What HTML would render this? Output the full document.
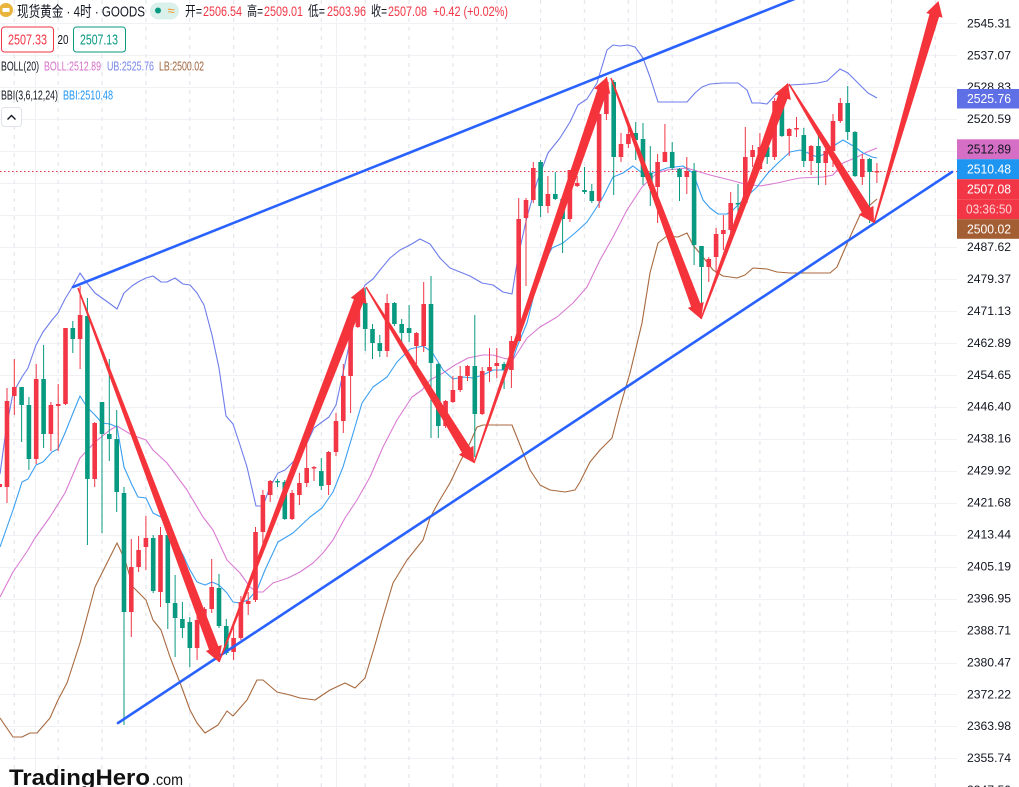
<!DOCTYPE html>
<html><head><meta charset="utf-8"><style>
html,body{margin:0;padding:0;background:#fff;width:1019px;height:787px;overflow:hidden}
svg{display:block}
text{font-family:"Liberation Sans","Noto Sans CJK SC",sans-serif}
</style></head><body>
<svg width="1019" height="787" viewBox="0 0 1019 787" xmlns="http://www.w3.org/2000/svg">
<rect width="1019" height="787" fill="#fff"/>
<!-- horizontal grid -->
<g stroke="#F0F1F4" stroke-width="1">
<path d="M0 23.5H957M0 55.5H957M0 87.5H957M0 119.5H957M0 151.5H957M0 183.5H957M0 215.5H957M0 247.5H957M0 279.5H957M0 311.5H957M0 343.5H957M0 375.5H957M0 407.5H957M0 439.5H957M0 471.5H957M0 503.5H957M0 535.5H957M0 567.5H957M0 599.5H957M0 631.5H957M0 663.5H957M0 694.5H957M0 726.5H957M0 758.5H957"/>
<path d="M35.5 0V787M336.5 0V787M636.5 0V787"/>
</g>
<g stroke="#E6E8EE" stroke-width="1.3" stroke-dasharray="4 5">
<path d="M14.3 0V787M58.2 0V787M102 0V787M145.9 0V787M189.7 0V787M233.6 0V787M277.5 0V787M321.3 0V787M365.2 0V787M409 0V787M452.9 0V787M496.8 0V787M540.6 0V787M584.5 0V787M628.3 0V787M672.2 0V787M716.1 0V787M759.9 0V787M803.8 0V787M847.6 0V787M891.5 0V787M935.4 0V787"/>
</g>
<!-- dotted last price line -->
<path d="M0 171.5H957" stroke="#F23645" stroke-width="1" stroke-dasharray="1.5 2.5"/>
<!-- indicators -->
<g fill="none" stroke-width="1.1" stroke-linejoin="round">
<polyline stroke="#6E7DEB" points="0,474 6,430 13,393 22,377 28,368 36,345 43,332 52,320 58,313 65,299 73,286 80,273 87,283 95,293 102,298 109,303 117,309 124,293 132,286 138,282 146,278 153,276 161,282 167,282 175,278 183,284 190,285 197,293 204,305 212,335 219,368 226,416 233,424 240,445 247,467 256,506 263,506 270,487 278,473 285,470 292,463 300,455 307,443 314,428 322,422 329,417 336,405 343,373 351,337 358,303 365,285 373,279 380,270 390,258 400,250 410,245 420,239 430,244 440,258 450,268 460,272 470,276 482,283 493,285 503,292 512,294 518,257 527,217 537,182 548,153 560,138 570,122 578,105 587,99 597,83 607,50 613,45 620,46 628,45 635,47 643,58 650,77 658,102 687,102 695,93 702,87 710,84 723,83 738,83 747,90 752,103 760,103 767,104 778,92 790,85 807,84 818,83 827,81 840,69 848,73 860,85 868,93 877,98"/>
<polyline stroke="#DA7BD3" points="0,597 13,572 28,550 35,538 50,517 65,493 80,458 95,442 110,430 117,426 132,435 146,440 153,450 167,463 187,490 203,517 213,530 227,560 240,573 250,587 257,592 263,592 273,583 288,578 300,572 313,563 323,553 333,540 345,518 357,500 370,477 383,447 397,420 412,397 422,390 430,380 443,373 455,365 468,358 483,355 493,355 503,358 513,360 527,338 540,327 557,317 573,303 587,287 600,260 613,237 627,210 642,187 657,173 667,170 687,168 700,172 710,175 730,180 745,184 760,186 777,183 790,180 800,178 823,177 833,175 843,163 857,157 867,152 877,148"/>
<polyline stroke="#A8693F" points="0,718 13,737 22,737 30,733 37,733 50,718 58,700 67,683 80,643 95,587 107,563 117,543 125,560 133,587 146,600 153,620 161,630 170,657 182,688 190,710 197,723 205,733 218,725 227,711 233,716 247,700 257,680 263,680 277,692 290,695 300,698 315,700 330,690 345,683 355,688 365,678 375,645 382,620 393,583 407,560 423,540 430,518 438,503 450,483 460,462 470,443 477,427 483,425 512,425 518,440 530,470 540,485 550,490 565,492 575,490 580,482 590,462 600,450 612,438 620,407 630,373 642,323 650,273 658,243 667,236 678,237 687,233 693,245 703,257 713,270 723,276 737,278 745,275 753,268 767,269 777,272 790,273 830,273 837,267 843,253 850,237 860,215 870,205 877,199"/>
<polyline stroke="#3A9FF2" points="0,547 13,510 22,482 28,479 36,465 43,462 52,452 58,449 65,433 73,413 80,396 87,407 95,415 102,423 110,424 117,427 124,467 132,485 138,497 146,498 153,513 161,517 167,527 175,540 183,555 190,570 197,582 205,585 212,582 219,585 227,593 233,602 240,603 248,600 257,590 265,570 278,542 293,533 310,517 322,508 333,492 343,467 352,437 362,403 373,387 387,377 397,362 410,349 423,346 432,352 443,370 453,379 463,377 473,378 483,375 493,370 502,370 510,368 517,347 527,323 540,270 552,248 563,243 575,233 587,222 595,210 603,197 613,177 623,173 633,166 642,173 653,173 667,168 683,166 693,173 703,200 710,208 718,214 727,214 733,210 743,200 757,187 768,173 778,163 790,152 800,150 808,153 817,157 827,153 835,145 843,140 855,147 863,153 872,157 877,158"/>
</g>
<!-- candles -->
<g fill="none">
<path stroke="#F23645" stroke-width="1" d="M7 388V503M14.3 359V415M36.2 364V464M50.9 402V451M58.2 384V451M65.5 328V405M80.1 286V369M94.7 422V487M131.3 539V637M138.6 536V572M145.9 516V570M160.5 527V607M197.1 613V660M204.4 607V623M211.7 559V613M233.6 622V660M240.9 596V640M248.2 592V615M255.5 527V602M262.9 490V547M270.2 480V502M292.1 490V520M299.4 473V505M306.7 443V487M314 466V481M328.6 451V495M336 413V456M343.3 364V433M350.6 321V413M357.9 303V328M387.1 294V357M416.4 332V364M423.7 282V352M445.6 400V428M452.9 376V403M460.2 366V392M467.5 365V381M482.2 367V415M489.5 348V382M496.8 348V378M511.4 336V388M518.7 198V341M526 198V286M533.3 162V203M547.9 176V213M569.9 170V222M577.2 176V187M599.1 113V208M606.4 77V120M621 133V162M628.4 121V148M657.6 154V223M664.9 124V162M686.8 157V194M708.8 257V282M716.1 228V273M723.4 215V250M730.7 192V235M745.3 127V204M752.6 145V167M759.9 133V170M774.6 98V160M789.2 128V156M796.5 117V137M811.1 145V175M825.7 149V185M833 114V167M840.3 98V123M862.3 154V185M876.9 163V183"/>
<path stroke="#F23645" stroke-width="4.6" d="M-0.3 484V487M7 401V487M14.3 387V396M36.2 379V459M50.9 405V434M58.2 404V406M65.5 328V404M80.1 315V339M94.7 423V479M131.3 567V612M138.6 550V567M145.9 538V547M160.5 535V592M197.1 620V648M204.4 609V620M211.7 587V609M233.6 638V652M240.9 602V638M248.2 601V604M255.5 532V600M262.9 495V532M270.2 481V495M292.1 493V519M299.4 483V495M306.7 468V483M314 467V468.5M328.6 452V485M336 421V452M343.3 376V421M350.6 327V376M357.9 305V327M387.1 303V351M416.4 333V346M423.7 304V346M445.6 401V426M452.9 390V402M460.2 376V390M467.5 366V376M482.2 371V414M489.5 367V371M496.8 363V366M511.4 341V370M518.7 219V341M526 200V218M533.3 168V200M547.9 194V206M569.9 170V219M577.2 183V186M599.1 114V201M606.4 82V114M621 144V157M628.4 134V144M657.6 162V187M664.9 152V162M686.8 171V177M708.8 259V267M716.1 234V257M723.4 230V234M730.7 203V230M745.3 157V203M752.6 150V157M759.9 147V169M774.6 101V157M789.2 129V136M796.5 128V129.5M811.1 146V161M825.7 151V163M833 121V151M840.3 103V121M862.3 159V177M876.9 171V172.5"/>
<path stroke="#089981" stroke-width="1" d="M21.6 387V442M28.9 397V470M43.6 345V448M72.8 321V353M87.4 298V545M102 402V533M109.3 359V461M116.7 410V512M124 487V725M153.2 535V593M167.8 527V629M175.1 575V657M182.4 602V638M189.8 617V667M219 574V628M226.3 619V655M277.5 479V487M284.8 480V520M321.3 458V490M365.2 288V351M372.5 324V359M379.8 335V357M394.4 302V326M401.7 319V343M409.1 305V342M431 276V438M438.3 363V438M474.8 315V457M504.1 362V389M540.6 160V217M555.3 172V200M562.6 199V253M584.5 167V194M591.8 184V203M613.7 80V195M635.7 122V160M643 123V185M650.3 146V206M672.2 142V170M679.5 168V201M694.1 163V265M701.5 246V310M738 184V218M767.2 147V164M781.9 90V137M803.8 128V167M818.4 134V185M847.7 86V140M855 131V177M869.6 158V223"/>
<path stroke="#089981" stroke-width="4.6" d="M21.6 387V405M28.9 405V459M43.6 379V434M72.8 328V339M87.4 316V479M102 402V434M109.3 434V439M116.7 439V492M124 493V612M153.2 538V591M167.8 535V603M175.1 603V618M182.4 619V628M189.8 622V648M219 588V626M226.3 626V653M277.5 481V482.5M284.8 482V519M321.3 471V486M365.2 303V329M372.5 329V343M379.8 343V351M394.4 303V324M401.7 324V333M409.1 328V333M431 304V363M438.3 364V426M474.8 366V414M504.1 364V370M540.6 162V206M555.3 194V199M562.6 199V219M584.5 190V192M591.8 191V201M613.7 82V157M635.7 133V140M643 139V177M650.3 173V186M672.2 152V168M679.5 169V177M694.1 171V245M701.5 246V267M738 203V204.5M767.2 147V157M781.9 101V136M803.8 135V161M818.4 146V163M847.7 103V132M855 132V176M869.6 159V172"/>
</g>
<!-- trend channel -->
<g stroke="#2962FF" stroke-width="2.6" stroke-linecap="round">
<line x1="73" y1="287" x2="797" y2="-2"/>
<line x1="118" y1="723" x2="952" y2="172"/>
</g>
<!-- arrows -->
<g fill="#F5333B">
<polygon points="77.3,288.3 209.0,649.7 205.8,651.0 219,662 221.7,645.0 218.4,646.2 78.7,287.7"/>
<polygon points="219.7,662.3 363.3,302.8 366.5,304.1 364,287 350.7,297.9 353.9,299.2 218.3,661.7"/>
<polygon points="365.4,287.4 461.9,452.8 458.9,454.7 474,463 473.4,445.8 470.4,447.6 366.6,286.6"/>
<polygon points="474.7,463.2 606.8,92.8 610.2,94.0 607,77 594.1,88.4 597.4,89.6 473.3,462.8"/>
<polygon points="610.3,78.3 691.1,306.7 687.8,307.9 701,319 703.7,302.0 700.4,303.2 611.7,77.7"/>
<polygon points="701.7,319.3 787.5,98.8 790.8,100.0 788,83 774.8,94.1 778.1,95.3 700.3,318.7"/>
<polygon points="788.4,84.4 861.9,212.8 858.9,214.6 874,223 873.4,205.8 870.4,207.6 789.6,83.6"/>
<polygon points="874.7,223.2 939.1,16.8 942.5,17.8 938.5,1 926.2,13.0 929.5,14.0 873.3,222.8"/>
</g>
<!-- price axis labels -->
<g font-size="12" fill="#131722">
<text x="967" y="27.3" textLength="44" lengthAdjust="spacingAndGlyphs">2545.31</text>
<text x="967" y="59.3" textLength="44" lengthAdjust="spacingAndGlyphs">2537.07</text>
<text x="967" y="91.2" textLength="44" lengthAdjust="spacingAndGlyphs">2528.83</text>
<text x="967" y="123.2" textLength="44" lengthAdjust="spacingAndGlyphs">2520.59</text>
<text x="967" y="155.1" textLength="44" lengthAdjust="spacingAndGlyphs">2512.35</text>
<text x="967" y="251" textLength="44" lengthAdjust="spacingAndGlyphs">2487.62</text>
<text x="967" y="283" textLength="44" lengthAdjust="spacingAndGlyphs">2479.37</text>
<text x="967" y="314.9" textLength="44" lengthAdjust="spacingAndGlyphs">2471.13</text>
<text x="967" y="346.8" textLength="44" lengthAdjust="spacingAndGlyphs">2462.89</text>
<text x="967" y="378.8" textLength="44" lengthAdjust="spacingAndGlyphs">2454.65</text>
<text x="967" y="410.7" textLength="44" lengthAdjust="spacingAndGlyphs">2446.40</text>
<text x="967" y="442.7" textLength="44" lengthAdjust="spacingAndGlyphs">2438.16</text>
<text x="967" y="474.6" textLength="44" lengthAdjust="spacingAndGlyphs">2429.92</text>
<text x="967" y="506.6" textLength="44" lengthAdjust="spacingAndGlyphs">2421.68</text>
<text x="967" y="538.5" textLength="44" lengthAdjust="spacingAndGlyphs">2413.44</text>
<text x="967" y="570.5" textLength="44" lengthAdjust="spacingAndGlyphs">2405.19</text>
<text x="967" y="602.4" textLength="44" lengthAdjust="spacingAndGlyphs">2396.95</text>
<text x="967" y="634.4" textLength="44" lengthAdjust="spacingAndGlyphs">2388.71</text>
<text x="967" y="666.3" textLength="44" lengthAdjust="spacingAndGlyphs">2380.47</text>
<text x="967" y="698.3" textLength="44" lengthAdjust="spacingAndGlyphs">2372.22</text>
<text x="967" y="730.2" textLength="44" lengthAdjust="spacingAndGlyphs">2363.98</text>
<text x="967" y="762.2" textLength="44" lengthAdjust="spacingAndGlyphs">2355.74</text>
<text x="967" y="794.1" textLength="44" lengthAdjust="spacingAndGlyphs">2347.50</text>
</g>
<!-- price boxes -->
<rect x="957" y="89" width="62" height="19.5" fill="#5F6FE6"/>
<text x="967" y="103.2" font-size="12.5" fill="#fff" textLength="44" lengthAdjust="spacingAndGlyphs">2525.76</text>
<rect x="957" y="139.3" width="62" height="19.9" fill="#D46FC5"/>
<text x="967" y="153.7" font-size="12.5" fill="#131722" textLength="44" lengthAdjust="spacingAndGlyphs">2512.89</text>
<rect x="957" y="159.2" width="62" height="20" fill="#1E95F0"/>
<text x="967" y="173.7" font-size="12.5" fill="#fff" textLength="44" lengthAdjust="spacingAndGlyphs">2510.48</text>
<rect x="957" y="179.2" width="62" height="20" fill="#F23645"/>
<text x="967" y="193.7" font-size="12.5" fill="#fff" textLength="44" lengthAdjust="spacingAndGlyphs">2507.08</text>
<rect x="957" y="199.2" width="62" height="20" fill="#F23645"/>
<text x="966" y="213.7" font-size="12.5" fill="#FFD3D7" textLength="46" lengthAdjust="spacingAndGlyphs">03:36:50</text>
<rect x="957" y="219.2" width="62" height="19.6" fill="#A45E33"/>
<text x="967" y="233.5" font-size="12.5" fill="#fff" textLength="44" lengthAdjust="spacingAndGlyphs">2500.02</text>
<!-- header -->
<circle cx="6" cy="10" r="7" fill="#E9B43C"/>
<rect x="2.5" y="8" width="7" height="4" fill="#fff" rx="0.5"/>
<text x="17" y="16.5" font-size="15" fill="#131722" textLength="128" lengthAdjust="spacingAndGlyphs">现货黄金 · 4时 · GOODS</text>
<rect x="150" y="2.5" width="29" height="17" rx="8.5" fill="#D9F0EB"/>
<circle cx="158" cy="10.5" r="3" fill="#089981"/>
<text x="167.5" y="15" font-size="13" fill="#F7931A">≈</text>
<g font-size="14">
<text x="185" y="16" fill="#131722" textLength="17" lengthAdjust="spacingAndGlyphs">开=</text>
<text x="203" y="16" fill="#F23645" textLength="39" lengthAdjust="spacingAndGlyphs">2506.54</text>
<text x="247" y="16" fill="#131722" textLength="16" lengthAdjust="spacingAndGlyphs">高=</text>
<text x="264" y="16" fill="#F23645" textLength="39" lengthAdjust="spacingAndGlyphs">2509.01</text>
<text x="308" y="16" fill="#131722" textLength="17" lengthAdjust="spacingAndGlyphs">低=</text>
<text x="327" y="16" fill="#F23645" textLength="39" lengthAdjust="spacingAndGlyphs">2503.96</text>
<text x="371" y="16" fill="#131722" textLength="16" lengthAdjust="spacingAndGlyphs">收=</text>
<text x="388" y="16" fill="#F23645" textLength="39" lengthAdjust="spacingAndGlyphs">2507.08</text>
<text x="433" y="16" fill="#F23645" textLength="75" lengthAdjust="spacingAndGlyphs">+0.42 (+0.02%)</text>
</g>
<rect x="1.5" y="27" width="52" height="25" rx="3" fill="#fff" stroke="#F23645" stroke-width="1"/>
<text x="8" y="44.5" font-size="15" fill="#F23645" textLength="39" lengthAdjust="spacingAndGlyphs">2507.33</text>
<text x="57.5" y="44" font-size="12.5" fill="#131722" textLength="11" lengthAdjust="spacingAndGlyphs">20</text>
<rect x="73.5" y="27" width="52" height="25" rx="3" fill="#fff" stroke="#089981" stroke-width="1"/>
<text x="80" y="44.5" font-size="15" fill="#089981" textLength="38" lengthAdjust="spacingAndGlyphs">2507.13</text>
<g font-size="12.5">
<text x="1" y="70.5" fill="#131722" textLength="38" lengthAdjust="spacingAndGlyphs">BOLL(20)</text>
<text x="44" y="70.5" fill="#D670C8" textLength="57" lengthAdjust="spacingAndGlyphs">BOLL:2512.89</text>
<text x="107" y="70.5" fill="#7886E8" textLength="47" lengthAdjust="spacingAndGlyphs">UB:2525.76</text>
<text x="159" y="70.5" fill="#A0653E" textLength="45" lengthAdjust="spacingAndGlyphs">LB:2500.02</text>
<text x="1" y="99.5" fill="#131722" textLength="57" lengthAdjust="spacingAndGlyphs">BBI(3,6,12,24)</text>
<text x="63" y="99.5" fill="#2196F3" textLength="50" lengthAdjust="spacingAndGlyphs">BBI:2510.48</text>
</g>
<rect x="1.5" y="107.5" width="20" height="19" rx="3" fill="#fff" stroke="#E0E3EB"/>
<polyline points="7.5,119.5 11.5,115.5 15.5,119.5" fill="none" stroke="#131722" stroke-width="1.4"/>
<!-- watermark -->
<text x="9" y="785" font-size="22" font-weight="bold" fill="#111" textLength="141" lengthAdjust="spacingAndGlyphs">TradingHero</text>
<text x="152" y="785" font-size="16" fill="#111" textLength="31" lengthAdjust="spacingAndGlyphs">.com</text>
</svg>
</body></html>
